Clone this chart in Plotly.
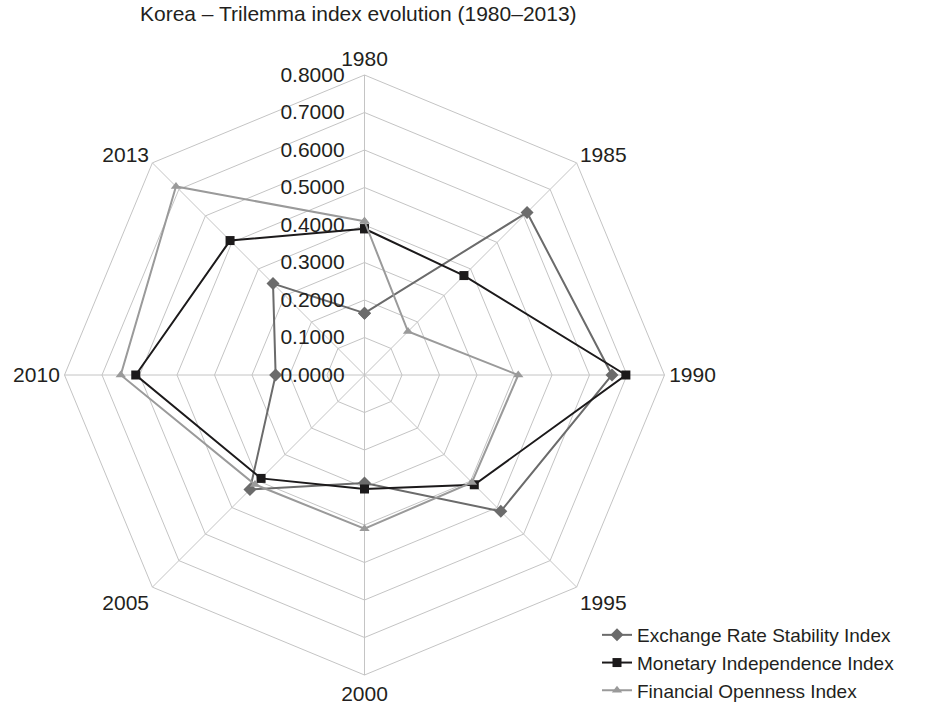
import plotly.graph_objects as go

years = ["1980", "1985", "1990", "1995", "2000", "2005", "2010", "2013"]
ers = [0.165, 0.613, 0.660, 0.514, 0.288, 0.432, 0.237, 0.345]
mi = [0.390, 0.375, 0.697, 0.414, 0.304, 0.390, 0.610, 0.507]
fo = [0.410, 0.164, 0.410, 0.405, 0.410, 0.413, 0.650, 0.711]
radial_ticks = [0.0, 0.1, 0.2, 0.3, 0.4, 0.5, 0.6, 0.7, 0.8]

W, H = 933, 705

def closed(v):
    return v + [v[0]]

theta = closed(years)

fig = go.Figure()
fig.add_trace(go.Scatterpolar(
    r=closed(ers), theta=theta, name="Exchange Rate Stability Index",
    mode="lines+markers", line=dict(color="#6b6b6b", width=2),
    marker=dict(symbol="diamond", size=10, color="#6b6b6b")))
fig.add_trace(go.Scatterpolar(
    r=closed(mi), theta=theta, name="Monetary Independence Index",
    mode="lines+markers", line=dict(color="#1c1a1b", width=2),
    marker=dict(symbol="square", size=9, color="#1c1a1b")))
fig.add_trace(go.Scatterpolar(
    r=closed(fo), theta=theta, name="Financial Openness Index",
    mode="lines+markers", line=dict(color="#9a9a9a", width=2),
    marker=dict(symbol="triangle-up", size=9, color="#9a9a9a")))

cx, cy, R = 364.5, 375, 300

fig.update_layout(
    width=W, height=H,
    margin=dict(l=0, r=0, t=0, b=0, autoexpand=False),
    paper_bgcolor="white", plot_bgcolor="white",
    font=dict(family="Liberation Sans, Arial, sans-serif", color="#231f20", size=21),
    title=dict(text="Korea – Trilemma index evolution (1980–2013)",
               x=140 / W, xanchor="left", y=1 - 14 / H, yanchor="middle",
               font=dict(size=21, color="#231f20")),
    polar=dict(
        domain=dict(x=[(cx - R) / W, (cx + R) / W], y=[1 - (cy + R) / H, 1 - (cy - R) / H]),
        bgcolor="white",
        gridshape="linear",
        angularaxis=dict(
            rotation=90, direction="clockwise",
            categoryorder="array", categoryarray=years,
            showline=True, linecolor="#c4c4c4", linewidth=1,
            gridcolor="#c4c4c4", gridwidth=1,
            ticks="", tickfont=dict(size=21, color="#231f20")),
        radialaxis=dict(
            range=[0, 0.8], angle=90, tickangle=90,
            tickvals=radial_ticks, tickformat=".4f",
            showline=False, gridcolor="#c4c4c4", gridwidth=1,
            ticks="outside", ticklen=12, tickcolor="rgba(0,0,0,0)",
            side="counterclockwise",
            tickfont=dict(size=21, color="#231f20")),
    ),
    showlegend=True,
    legend=dict(x=597 / W, y=1 - 616 / H, xanchor="left", yanchor="top",
                font=dict(size=19, color="#231f20"), bgcolor="rgba(0,0,0,0)",
                itemwidth=30, tracegroupgap=0),
)

fig.write_html("out.html", config={"displayModeBar": False},
               post_script="document.body.style.margin='0px';")
